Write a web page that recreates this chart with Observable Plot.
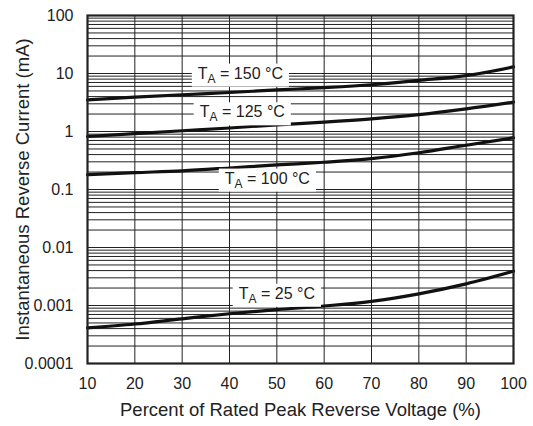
<!DOCTYPE html>
<html><head><meta charset="utf-8">
<script src="https://cdn.jsdelivr.net/npm/d3@7"></script>
<script src="https://cdn.jsdelivr.net/npm/@observablehq/plot@0.6"></script>
<style>
body{margin:0;background:#fff;font-family:"Liberation Sans",Arial,sans-serif;}
</style></head><body><div id="chart"></div>
<script>
const voltagePct = [10,20,30,40,50,60,70,80,90,100];
const ta150 = [3.5,3.9,4.3,4.7,5.2,5.7,6.4,7.6,9.2,13];
const ta125 = [0.82,0.92,1.03,1.15,1.3,1.45,1.65,1.95,2.45,3.2];
const ta100 = [0.18,0.195,0.21,0.235,0.265,0.295,0.34,0.43,0.58,0.78];
const ta25 = [0.00041,0.00048,0.00059,0.00072,0.00085,0.00098,0.00118,0.00159,0.00236,0.0039];
const seriesNames = ["150","125","100","25"];
const labelX = [42.3,42.7,48,50];
const labelY = [10,2.15,0.155,0.0016];
const xTicks = [10,20,30,40,50,60,70,80,90,100];
const yTicks = [0.0001,0.001,0.01,0.1,1,10,100];
const yTickLabels = ["0.0001","0.001","0.01","0.1","1","10","100"];
const xLabel = "Percent of Rated Peak Reverse Voltage (%)";
const yLabel = "Instantaneous Reverse Current (mA)";

const seriesVals = [ta150, ta125, ta100, ta25];
const rows = [];
seriesNames.forEach((s,i)=>voltagePct.forEach((v,j)=>rows.push({s, x:v, y:seriesVals[i][j]})));
const labels = seriesNames.map((s,i)=>({s, x:labelX[i], y:labelY[i]}));

const minor = [];
for (let e=-4;e<2;e++) for (let m=1;m<10;m++) minor.push(m*Math.pow(10,e));

const chart = Plot.plot({
  width:533, height:426,
  marginLeft:87, marginRight:20, marginTop:15, marginBottom:63,
  style:{fontFamily:"Liberation Sans, Arial, sans-serif", fontSize:"15px", color:"#222"},
  x:{domain:[10,100], ticks:xTicks, tickSize:0, tickPadding:14, label:xLabel, labelAnchor:"center", labelOffset:52, labelArrow:"none"},
  y:{type:"log", domain:[0.0001,100], ticks:yTicks, tickFormat:(d)=>yTickLabels[yTicks.indexOf(d)], tickSize:0, tickPadding:14, label:yLabel, labelAnchor:"center", labelOffset:72, labelArrow:"none"},
  marks:[
    Plot.ruleY(minor, {stroke:"#222", strokeWidth:1}),
    Plot.ruleX(xTicks, {stroke:"#222", strokeWidth:1}),
    Plot.line(rows, {x:"x", y:"y", z:"s", stroke:"#111", strokeWidth:3.2, curve:"monotone-x"}),
    Plot.text(labels, {x:"x", y:"y", text:"s", fontSize:16, fill:"#222", className:"talabel"}),
    Plot.frame({stroke:"#222", strokeWidth:2.2})
  ]
});
document.getElementById("chart").appendChild(chart);

// font sizes for axis text
d3.select(chart).selectAll("g[aria-label='x-axis tick label'] text, g[aria-label='y-axis tick label'] text")
  .attr("font-size", 16).style("font-size","16px");
d3.select(chart).selectAll("g[aria-label='x-axis label'] text, g[aria-label='y-axis label'] text")
  .attr("font-size", 18.5).style("font-size","18.5px");

// Build subscripted labels with white boxes
d3.select(chart).selectAll("g.talabel text").each(function(){
  const el = d3.select(this);
  const t = el.text();
  el.text(null);
  el.append("tspan").text("T");
  el.append("tspan").attr("dy","4").attr("font-size","12").text("A");
  el.append("tspan").attr("dy","-4").text(" = " + t + " °C");
  const b = this.getBBox();
  const r = document.createElementNS("http://www.w3.org/2000/svg","rect");
  r.setAttribute("x", b.x-6); r.setAttribute("y", b.y-1);
  r.setAttribute("width", b.width+12); r.setAttribute("height", b.height+2);
  r.setAttribute("fill","white");
  r.setAttribute("stroke","none");
  if (this.getAttribute("transform")) r.setAttribute("transform", this.getAttribute("transform"));
  this.parentNode.insertBefore(r, this);
});
</script></body></html>
